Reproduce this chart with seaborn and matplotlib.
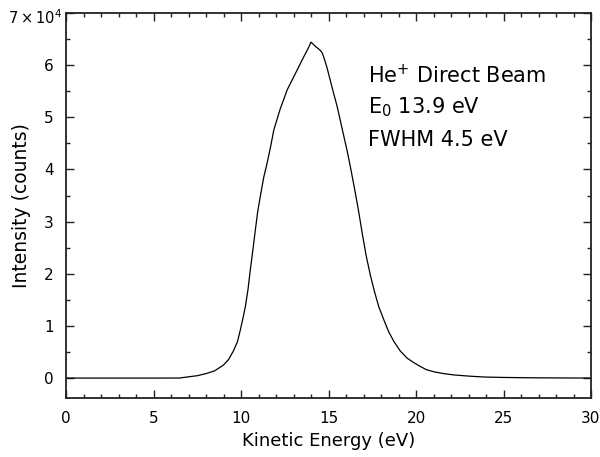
import matplotlib
matplotlib.use("Agg")
import matplotlib.pyplot as plt
import seaborn as sns
import pandas as pd
from matplotlib.ticker import MultipleLocator, FixedLocator, FixedFormatter

energy = [0, 2, 4, 5.5, 6.5, 6.9, 7.5, 8.05, 8.5, 9.0, 9.3, 9.58, 9.8, 9.96, 10.1, 10.25,
          10.4, 10.53, 10.68, 10.82, 10.95, 11.1, 11.3, 11.49, 11.7, 11.87, 12.05, 12.25,
          12.45, 12.63, 12.9, 13.2, 13.45, 13.68, 13.85, 14.0, 14.1, 14.25, 14.4, 14.54,
          14.65, 14.77, 14.9, 15.1, 15.3, 15.5, 15.7, 15.9, 16.07, 16.25, 16.45, 16.7,
          16.93, 17.15, 17.4, 17.65, 17.88, 18.17, 18.45, 18.74, 19.1, 19.5, 19.9, 20.26,
          20.6, 21.03, 21.6, 22.17, 23.0, 23.9, 25.0, 26.7, 28.5, 30.0]
intensity = [0, 0, 0, 0, 10, 200, 450, 900, 1400, 2500, 3600, 5300, 7000, 9200, 11300, 13700,
             17000, 20700, 24600, 28400, 31800, 34800, 38500, 41200, 44500, 47500, 49500, 51700,
             53500, 55200, 57000, 59000, 60700, 62200, 63300, 64400, 64100, 63600, 63200, 62800,
             62300, 61100, 59700, 57100, 54500, 52000, 49000, 46000, 43500, 40500, 37000, 32400,
             27700, 23500, 19600, 16300, 13600, 11100, 8800, 7000, 5200, 3800, 2900, 2200,
             1600, 1200, 850, 600, 380, 200, 120, 50, 20, 0]
ytick_values = [0, 10000, 20000, 30000, 40000, 50000, 60000, 70000]
ytick_labels = ["0", "1", "2", "3", "4", "5", "6", ""]
top_label = "7\u2009×\u200910$^{4}$"

df = pd.DataFrame({"Kinetic Energy (eV)": energy, "Intensity": intensity})

sns.set_style("ticks")
plt.rcParams["font.family"] = ["DejaVu Sans"]
plt.rcParams["mathtext.fontset"] = "dejavusans"
plt.rcParams["text.color"] = "black"
plt.rcParams["axes.labelcolor"] = "black"
plt.rcParams["xtick.color"] = "black"
plt.rcParams["ytick.color"] = "black"

fig = plt.figure(figsize=(6.0, 4.57), dpi=100)
ax = fig.add_axes([0.11, 0.129, 0.875, 0.8426])
sns.lineplot(data=df, x="Kinetic Energy (eV)", y="Intensity", ax=ax,
             color="black", linewidth=0.9)

ax.set_xlim(0, 30)
ax.set_ylim(-3830, 70000)
ax.xaxis.set_major_locator(MultipleLocator(5))
ax.xaxis.set_minor_locator(MultipleLocator(1))
ax.yaxis.set_major_locator(FixedLocator(ytick_values))
ax.yaxis.set_major_formatter(FixedFormatter(ytick_labels))
ax.yaxis.set_minor_locator(MultipleLocator(5000))

for s in ax.spines.values():
    s.set_visible(True)
    s.set_linewidth(1.3)
    s.set_color("#222222")
ax.tick_params(which="both", direction="in", top=True, right=True, color="#222222",
               labelsize=11, width=1.0)
ax.tick_params(which="major", length=6)
ax.tick_params(which="minor", length=3)
ax.tick_params(axis="x", pad=9)
ax.tick_params(axis="y", pad=9)

# top y tick label drawn as annotation so it fits the canvas like the reference
ax.annotate(top_label, xy=(0, ytick_values[-1]), xycoords=("axes fraction", "data"),
            xytext=(-4, -5), textcoords="offset pixels", ha="right", va="center",
            fontsize=10.5, annotation_clip=False)

ax.set_xlabel("Kinetic Energy (eV)", fontsize=13)
ax.set_ylabel("Intensity (counts)", fontsize=13.5)
ax.xaxis.set_label_coords(0.5, -0.088)
ax.yaxis.set_label_coords(-0.066, 0.5)

ax.text(0.576, 0.818, r"He$^{\mathregular{+}}$ Direct Beam", transform=ax.transAxes,
        fontsize=15, va="baseline")
ax.text(0.576, 0.740, r"E$_{\mathregular{0}}$ 13.9 eV", transform=ax.transAxes,
        fontsize=15, va="baseline")
ax.text(0.576, 0.655, "FWHM 4.5 eV", transform=ax.transAxes, fontsize=15, va="baseline")

fig.savefig("out.png", dpi=100)
